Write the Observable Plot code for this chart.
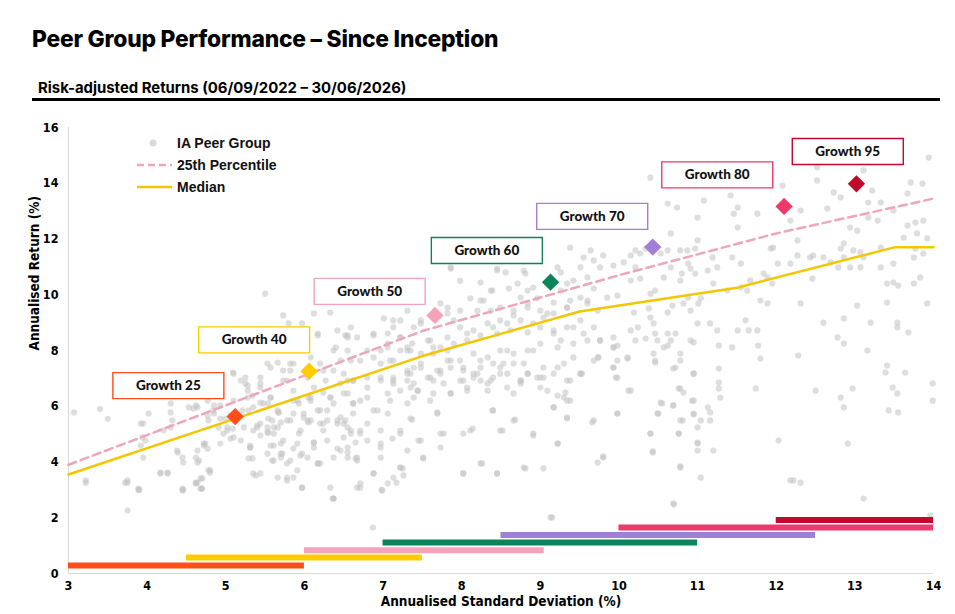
<!DOCTYPE html>
<html><head><meta charset="utf-8">
<script src="https://cdn.jsdelivr.net/npm/d3@7"></script>
<script src="https://cdn.jsdelivr.net/npm/@observablehq/plot@0.6"></script>
<style>
body{margin:0;background:#fff;width:955px;height:614px;position:relative;overflow:hidden;font-family:Inter,sans-serif}
#title{position:absolute;left:32px;top:25px;font-weight:800;font-size:22.8px;color:#000;white-space:nowrap;letter-spacing:-0.2px}
#subtitle{position:absolute;left:38px;top:79px;font-weight:700;font-size:14.9px;color:#000;white-space:nowrap}
#rule{position:absolute;left:32px;top:98px;width:908px;height:3px;background:#000}
#chart{position:absolute;left:0;top:105px}
#legend{position:absolute;left:135px;top:132px;font:bold 14px "Liberation Sans",Arial,sans-serif;color:#111}
.li{position:relative;height:22px;display:flex;align-items:center}
.li svg{width:40px;height:22px;flex:none}
.li span{margin-left:2px}
</style></head>
<body>
<div id="title">Peer Group Performance – Since Inception</div>
<div id="subtitle">Risk-adjusted Returns (06/09/2022 – 30/06/2026)</div>
<div id="rule"></div>
<div id="chart"></div>
<div id="legend">
 <div class="li"><svg><circle cx="18" cy="11" r="3.5" fill="#dadada"/></svg><span>IA Peer Group</span></div>
 <div class="li"><svg><line x1="2" x2="37" y1="11" y2="11" stroke="#eea6b9" stroke-width="2.5" stroke-dasharray="7,4"/></svg><span>25th Percentile</span></div>
 <div class="li"><svg><line x1="2" x2="37" y1="11" y2="11" stroke="#f4c600" stroke-width="2.5"/></svg><span>Median</span></div>
</div>
<script>
const xTicks = [3,4,5,6,7,8,9,10,11,12,13,14];
const yTicks = [0,2,4,6,8,10,12,14,16];

const fundNames = ["Growth 25","Growth 40","Growth 50","Growth 60","Growth 70","Growth 80","Growth 95"];
const fundColors = ["#ff4e1a","#ffcc00","#f4a3b8","#0b8459","#a07fd6","#ee3a6a","#c10a2b"];
const fundSD = [5.12,6.06,7.66,9.13,10.43,12.1,13.02];
const fundRet = [5.63,7.26,9.26,10.45,11.71,13.17,13.98];
const labelX = [4.27,5.36,6.83,8.32,9.66,11.25,12.91];
const labelY = [6.74,8.38,10.12,11.59,12.81,14.3,15.14];
const rangeLo = [3,4.5,6,7,8.5,10,12];
const rangeHi = [6,7.5,9.05,11,12.5,14,14];
const rangeY = [0.29,0.57,0.83,1.11,1.38,1.65,1.92];

const p25X = [3,7.5,10,12,14];
const p25Y = [3.9,8.7,10.7,12.2,13.45];
const medX = [3,7.5,9.5,11.5,13.5,14];
const medY = [3.55,7.8,9.4,10.25,11.7,11.7];

const peer = [
[3.07,5.78],[3.4,5.9],[3.5,5.55],[3.22,3.34],[3.75,2.26],[3.89,3.0],[3.75,3.26],[3.95,5.38],[4.02,5.74],[3.94,4.88],[3.92,4.59],[4.17,3.59],[4.26,3.59],[4.21,5.13],[4.3,6.1],[4.3,5.78],[4.32,5.49],[4.38,4.41],[4.45,4.16],[4.46,3.98],[4.45,2.98],[4.53,5.96],[4.59,5.92],[4.64,5.96],[4.62,4.16],[4.64,3.98],[4.64,3.26],[4.7,3.41],[4.7,3.05],[4.74,4.66],[4.77,4.48],[4.8,3.62],[4.78,5.49],[4.85,5.74],[4.91,5.24],[4.97,5.02],[5.0,5.56],[5.06,5.67],[5.09,7.21],[5.09,5.2],[5.1,4.88],[5.19,6.92],[5.25,7.03],[5.28,6.56],[5.29,5.85],[5.31,4.52],[5.34,4.13],[5.35,5.96],[5.4,5.24],[5.44,6.82],[5.44,3.59],[5.48,6.1],[5.53,7.53],[5.53,5.06],[5.54,5.56],[5.57,6.31],[5.57,4.59],[5.61,4.05],[5.61,5.02],[5.66,5.24],[5.67,5.78],[5.7,4.66],[5.72,4.3],[5.73,6.92],[5.73,9.26],[5.78,5.49],[5.8,8.97],[5.82,7.28],[5.82,7.53],[5.86,6.56],[5.86,3.44],[5.91,6.2],[5.93,5.02],[5.95,4.23],[5.97,8.97],[5.99,5.74],[6.04,7.03],[6.05,5.42],[6.08,6.2],[6.12,9.33],[6.12,4.7],[6.17,8.61],[6.17,3.95],[6.2,5.85],[6.2,7.53],[6.24,5.13],[6.27,6.92],[6.29,5.49],[6.33,9.36],[6.33,6.31],[6.33,3.08],[6.37,7.28],[6.37,2.69],[6.4,8.11],[6.42,8.72],[6.46,4.41],[6.5,5.38],[6.52,8.54],[6.55,6.92],[6.59,7.64],[6.59,8.83],[6.62,6.1],[6.65,4.7],[6.67,4.05],[6.67,3.08],
[6.88,8.54],[6.8,8.0],[7.06,8.25],[7.22,8.47],[7.31,8.0],[6.97,7.53],[7.13,7.64],[7.39,7.39],[6.8,7.03],[6.97,6.92],[7.13,6.82],[7.31,6.92],[6.8,6.31],[7.06,6.46],[7.22,6.56],[7.39,6.31],[6.88,5.85],[7.06,5.74],[7.35,5.56],[6.8,5.38],[6.97,5.13],[7.22,5.13],[6.8,4.77],[6.97,4.52],[7.12,4.84],[7.31,4.41],[6.97,4.16],[7.22,3.8],[6.88,3.59],[7.26,3.52],[6.71,3.23],[7.06,3.23],
[5.1,7.17],[5.28,6.74],[5.44,7.03],[5.57,7.39],[5.73,7.28],[5.86,7.53],[5.78,6.92],[5.57,6.31],[5.44,6.13],[5.28,6.31],[5.1,6.2],[4.93,6.03],[4.84,5.85],[4.77,5.67],[5.66,5.85],[5.86,6.2],[6.08,6.31],[6.24,6.49],[6.46,6.82],[6.62,6.92],[6.37,6.1],[6.17,5.85],[5.99,5.6],[5.82,5.49],[5.95,5.13],[6.08,5.49],[6.24,5.38],[6.42,5.49],[6.55,5.24],[6.5,4.88],[6.71,5.13],[6.29,4.77],[6.12,4.52],[5.91,4.66],[5.73,4.77],[5.61,5.24],[5.44,5.38],[5.35,5.13],[5.23,5.24],[5.19,4.77],[5.02,5.13],[4.93,4.66],[5.31,4.52],[5.53,4.3],[5.7,4.16],[5.78,3.95],[6.04,4.16],[6.2,3.95],[6.37,4.16],[6.55,4.16],[5.91,3.7],[5.66,3.44],[5.35,3.59],[4.8,3.7],[4.72,4.59],[7.13,3.44],[6.17,8.54],[6.37,8.0],[6.55,8.47],[6.46,7.64],[6.24,7.28],[6.08,7.75],[5.66,7.57],[5.5,10.04],
[3.92,5.38],[3.98,4.77],[3.95,4.16],[4.3,5.24],[4.39,4.34],[4.62,6.03],[4.64,4.41],[4.66,4.05],[4.72,4.66],[4.77,6.2],[4.85,6.03],[4.78,3.7],[4.68,3.41],[4.62,3.26],[4.68,3.05],[4.45,3.05],[4.17,3.62],[4.26,3.62],[3.89,3.05],[3.75,3.34],[5.02,5.24],[5.06,4.84],[4.93,5.56],[5.21,5.85],[5.34,6.38],[5.25,6.82],[5.44,6.67],[5.54,6.1],[5.4,5.31],[5.53,5.24],[5.67,5.78],[5.7,5.42],[5.59,5.49],[5.44,4.95],[5.54,5.06],[5.31,4.59],[5.29,4.13],[5.61,4.59],[5.59,4.05],[5.7,4.3],[5.82,4.05],[5.78,3.44],[5.38,3.52],[5.86,4.48],[5.97,4.3],[6.12,4.7],[6.17,3.95],[5.97,3.08],[6.37,2.69],[5.86,5.74],[5.93,6.1],[6.04,5.49],[6.05,6.31],[6.2,5.38],[6.29,5.85],[6.42,5.38],[6.52,5.49],[6.59,5.02],[6.42,4.48],[6.55,4.34],[6.65,4.13],[6.62,6.1],[6.62,5.74],[6.12,6.67],[6.33,6.31],[6.5,6.46],
[7.86,10.94],[7.98,10.5],[8.45,10.94],[8.56,10.8],[8.79,10.87],[8.91,10.26],[8.24,10.44],[8.39,10.15],[8.11,9.87],[8.28,9.79],[8.2,9.43],[8.6,10.22],[8.75,9.9],[9.22,10.98],[9.26,10.8],[9.38,11.69],[9.51,10.98],[9.64,11.59],[9.8,11.41],[9.76,10.98],[9.93,11.05],[10.06,11.16],[10.21,11.59],[9.68,10.22],[9.85,9.9],[9.6,9.79],[9.73,9.43],[9.98,9.97],[9.38,9.79],[9.34,9.54],[9.17,9.72],[9.0,9.43],[9.09,9.33],[8.84,9.69],[8.66,9.26],[8.49,9.08],[8.33,8.97],[8.15,8.72],[7.98,8.83],[7.82,9.33],[7.73,9.69],[7.48,8.97],[7.39,8.83],[7.22,9.08],[7.13,8.83],[7.01,9.15],[6.88,8.61],[6.67,8.47],[6.55,8.54],[6.55,8.0],[6.71,7.64],[6.88,7.75],[7.06,8.11],[7.22,8.0],[7.37,8.25],[7.57,8.36],[7.73,8.11],[7.9,8.25],[8.07,8.36],[8.24,8.54],[8.45,8.61],[8.62,8.72],[8.84,8.65],[9.0,8.83],[9.17,8.61],[9.26,8.36],[9.42,8.83],[9.55,8.61],[9.76,8.36],[9.93,8.47],[10.15,8.72],[9.93,8.11],[10.11,7.75],[9.98,7.64],[9.98,7.03],[9.73,7.75],[9.51,7.17],[9.38,6.92],[9.22,7.39],[9.04,7.03],[8.84,7.17],[8.66,7.53],[8.49,7.39],[8.4,7.03],[8.24,7.64],[8.15,7.17],[8.02,7.39],[7.86,7.64],[7.73,7.28],[7.64,6.92],[7.48,7.39],[7.35,6.67],[7.31,7.17],[7.13,6.92],[6.97,7.03],[6.8,6.67],[6.62,6.92],[6.5,7.17],[6.55,6.46],[6.71,6.2],[6.93,5.85],[7.09,6.2],[7.44,6.56],[7.6,6.2],[7.69,5.74],[7.86,6.46],[8.07,6.67],[8.24,6.92],[8.33,6.56],[8.58,6.67],[8.75,6.92],[9.0,6.67],[9.17,5.96],[9.3,6.31],[9.38,6.2],[9.34,5.6],[9.68,5.49],[9.98,5.74],[10.15,6.56],[9.93,7.39],[8.4,5.85],[8.66,5.49],[8.91,5.02],[9.22,4.66],[8.49,5.13],[8.11,5.13],[7.73,5.02],[7.48,4.77],[7.22,5.02],[6.97,4.66],[6.71,5.02],[6.55,4.52],[6.67,4.16],[6.88,3.59],[7.22,3.8],[7.51,4.16],[8.02,3.59],[8.24,3.95],[8.45,3.59],[8.79,3.8],[9.04,3.77],[9.73,3.98],[9.8,4.16],[6.71,3.08],[6.99,2.98],[9.13,2.01],[6.46,5.6],[6.59,5.13],
[7.86,10.98],[8.37,10.15],[8.45,10.87],[8.71,10.4],[8.81,10.76],[8.84,10.15],[8.96,9.87],[9.26,10.15],[9.34,10.4],[9.42,10.51],[9.6,10.62],[9.55,11.34],[9.68,11.23],[9.51,9.9],[9.6,9.69],[9.34,9.54],[9.17,9.33],[9.04,9.18],[8.84,9.54],[8.66,9.43],[8.49,9.54],[8.37,9.43],[8.24,9.79],[7.98,9.43],[7.82,9.54],[7.9,9.08],[7.48,9.08],[7.31,9.43],[7.13,9.08],[7.06,8.61],[7.22,8.47],[7.35,8.0],[6.97,8.0],[7.09,7.64],[7.6,8.36],[7.82,8.47],[8.07,8.61],[8.4,8.83],[8.58,8.97],[8.75,9.08],[8.91,8.97],[9.17,8.72],[9.34,8.83],[9.51,9.08],[9.68,8.83],[9.6,8.36],[9.42,8.25],[9.22,8.11],[9.0,8.25],[8.84,8.0],[8.66,7.89],[8.49,8.0],[8.33,7.75],[8.15,7.89],[7.98,7.64],[7.82,7.64],[7.64,7.89],[7.48,7.53],[7.31,7.28],[7.13,7.03],[7.39,6.82],[7.6,7.03],[7.77,6.82],[7.98,6.92],[8.2,7.17],[8.37,6.92],[8.58,7.17],[8.75,6.92],[8.96,7.03],[9.17,7.17],[9.34,6.92],[9.51,7.17],[9.68,7.64],[9.3,7.53],[9.04,7.39],[8.79,7.53],[8.53,7.53],[8.24,7.39],[8.02,7.28],[7.69,7.28],
[7.31,8.11],[7.48,7.89],[7.64,8.11],[7.82,8.0],[7.35,7.17],[7.57,7.03],[7.73,7.17],[7.86,7.39],[7.44,6.56],[7.64,6.46],[7.86,6.46],[8.02,6.92],[8.07,6.56],[8.15,7.03],[8.33,6.82],[8.4,7.53],[8.49,7.17],[8.58,8.0],[8.66,6.46],[8.75,6.82],[8.84,7.17],[8.91,8.0],[9.0,7.03],[9.09,6.56],[9.22,6.38],[9.32,6.49],[9.34,6.2],[9.42,7.75],[9.53,7.17],[9.34,5.56],[9.17,5.96],[7.31,6.1],[7.37,5.52],[7.69,5.78],[8.39,5.85],[8.68,5.52],[8.14,5.2],[7.77,5.02],[8.02,5.02],[8.52,5.13],[8.91,4.95],[9.22,4.66],[7.45,4.77],[7.73,4.52],[7.51,4.13],[8.26,3.95],[8.02,3.59],[8.45,3.59],[8.81,3.77],[7.25,3.77],[9.66,5.42],[9.8,4.2],[9.74,7.75],[9.93,7.39],[9.96,7.03],[10.11,7.71],[9.98,5.74],[10.12,6.56],[9.93,8.11],[10.44,7.89],[10.46,7.57],[10.62,8.18],[10.78,7.89],[10.72,7.39],[10.76,6.64],[10.82,6.49],[10.95,7.17],[10.95,6.2],[10.53,6.13],[10.69,6.03],[10.49,5.74],[10.81,5.49],[10.95,5.7],[10.4,5.02],[10.76,5.02],[11.0,4.7],[10.43,4.38],[10.78,3.84],[10.49,8.36],[10.95,8.29],[9.76,8.36],[9.98,8.18],
[10.4,14.2],[10.62,13.27],[10.74,13.13],[11.0,12.77],[11.08,13.38],[11.42,13.56],[11.51,13.13],[11.46,12.91],[11.76,12.91],[11.51,12.41],[12.08,13.92],[12.18,12.66],[12.31,13.02],[12.52,14.57],[12.52,14.1],[12.73,13.67],[12.82,13.49],[12.65,13.09],[13.11,14.46],[13.22,13.74],[13.17,13.31],[13.33,13.31],[12.94,12.41],[13.03,12.3],[13.17,12.77],[13.29,12.66],[13.49,13.02],[13.67,13.63],[13.71,14.03],[13.86,13.99],[13.94,14.92],[13.67,12.48],[13.77,12.59],[13.87,12.66],[13.62,12.05],[13.79,12.2],[13.92,12.02],[13.77,11.66],[13.87,11.48],[13.75,11.34],[13.83,10.62],[13.75,10.4],[13.92,9.69],[13.55,10.33],[13.41,10.4],[13.49,11.12],[13.33,11.69],[13.07,11.52],[12.86,11.84],[12.82,11.66],[12.94,10.98],[12.79,10.98],[12.6,11.34],[12.47,11.41],[12.46,10.58],[12.27,11.41],[12.18,11.12],[11.93,11.66],[11.84,10.76],[11.67,10.51],[11.55,11.12],[11.44,11.34],[11.55,10.26],[11.63,10.15],[11.8,9.79],[11.89,9.69],[12.31,9.69],[12.6,9.0],[12.86,9.15],[13.03,9.61],[13.2,9.0],[13.41,9.72],[13.54,9.0],[13.68,8.65],[13.54,8.83],[12.78,8.47],[12.86,8.25],[13.16,8.0],[12.28,7.82],[13.41,7.46],[13.64,7.21],[13.39,7.21],[13.99,6.82],[13.48,6.67],[13.54,6.46],[13.99,6.2],[13.43,5.85],[13.55,5.78],[12.97,6.64],[12.82,6.31],[12.86,5.96],[12.5,6.56],[12.91,4.66],[13.11,2.69],[12.03,4.77],[12.18,3.34],[12.31,3.26],[11.74,6.64],[11.8,7.71],[11.77,8.18],[11.76,8.72],[11.65,8.72],[11.61,9.08],[11.51,8.72],[11.44,8.11],[11.27,8.18],[11.27,7.35],[11.27,6.85],[11.29,6.31],[11.27,6.64],[11.13,5.96],[11.16,5.78],[11.16,5.49],[11.04,5.49],[10.95,5.74],[10.93,6.2],[11.0,5.24],[11.0,4.66],[11.0,4.41],[11.2,4.41],[10.78,5.49],[10.76,5.02],[10.78,3.8],[11.04,3.44],[10.69,2.51],[10.4,5.02],[10.43,4.34],[10.55,6.1],[10.5,5.74],[10.69,6.03],[10.78,6.64],[10.95,7.17],[10.69,7.35],[10.78,7.64],[10.46,7.64],[10.57,8.11],[10.66,8.36],[10.91,8.36],[11.0,8.97],[11.16,8.97],[11.25,8.72],[10.21,8.36],[10.34,8.43],[10.46,8.61],[10.62,8.61],[10.72,8.61],[10.24,8.83],[10.44,8.97],[10.19,9.36],[10.38,9.51],[10.4,9.18],[10.62,9.36],[10.68,9.61],[10.82,9.69],[10.91,9.43],[11.01,9.69],[10.88,9.9],[11.04,9.87],[11.2,10.4],[11.38,10.15],[10.78,10.51],[10.8,10.76],[10.97,10.76],[10.91,10.94],[11.13,10.87],[11.25,10.98],[10.57,10.62],[10.46,10.15],[10.4,10.04],[10.27,10.58],[10.15,10.51],[10.21,10.98],[10.15,11.41],[10.66,12.2],[11.0,11.95],[10.87,11.59],[10.62,11.59],[10.78,11.59],[10.97,11.66],[11.19,11.34],[10.88,11.12],[10.66,10.98],[11.89,10.62],[12.02,11.12],[11.95,10.4],[11.96,11.69],[12.27,11.95],[12.43,11.34],[12.69,11.16],[12.86,11.34],[12.98,11.59],[13.11,11.34],[13.07,10.98],[13.33,10.98],[13.49,10.44],[10.53,11.48],[10.34,11.66],[10.27,11.48],
[3.22,3.26],[3.72,3.26],[3.9,3.0],[4.46,3.0],[4.69,3.05],[4.62,3.23],[5.78,3.34],[5.97,3.08],[6.36,2.69],[6.98,3.0],[7.17,3.26],[6.87,1.65],[9.15,2.01],[10.7,2.48],[12.22,3.34],[13.96,2.08]
];

const funds = fundNames.map((name,i)=>({name, color:fundColors[i], sd:fundSD[i], ret:fundRet[i], lx:labelX[i], ly:labelY[i], lo:rangeLo[i], hi:rangeHi[i], by:rangeY[i]}));
const p25 = p25X.map((x,i)=>({x, y:p25Y[i]}));
const med = medX.map((x,i)=>({x, y:medY[i]}));

const boxSymbol = {draw(ctx){ ctx.moveTo(-55.5,-13); ctx.lineTo(55.5,-13); ctx.lineTo(55.5,13); ctx.lineTo(-55.5,13); ctx.closePath(); }};
const axisFont = "'Liberation Sans Narrow','Arial Narrow','DejaVu Sans Condensed',sans-serif";

const plot = Plot.plot({
  width:955, height:509,
  marginLeft:68, marginRight:22, marginTop:22, marginBottom:41,
  style:{fontFamily:axisFont, fontSize:"12.5px", fontWeight:"bold", color:"#000", background:"#fff", overflow:"visible"},
  x:{domain:[3,14], ticks:xTicks, tickSize:0, tickPadding:8, label:null},
  y:{domain:[0,16], ticks:yTicks, tickSize:0, tickPadding:10, label:null},
  color:{type:"identity"},
  marks:[
    Plot.ruleY([0],{stroke:"#d9d9d9"}),
    Plot.ruleX([3],{stroke:"#d9d9d9"}),
    Plot.dot(peer,{x:d=>d[0], y:d=>d[1], r:3.1, fill:"#c2c2c2", fillOpacity:0.55}),
    Plot.ruleY(funds,{x1:"lo", x2:"hi", y:"by", stroke:d=>d.color, strokeWidth:6}),
    Plot.line(p25,{x:"x", y:"y", stroke:"#eea6b9", strokeWidth:2.5, strokeDasharray:"8,5"}),
    Plot.line(med,{x:"x", y:"y", stroke:"#f4c600", strokeWidth:2.5}),
    Plot.dot(funds,{x:"sd", y:"ret", symbol:"diamond2", r:7.8, fill:d=>d.color}),
    Plot.dot(funds,{x:"lx", y:"ly", symbol:boxSymbol, r:1, fill:"white", stroke:d=>d.color, strokeWidth:1.4}),
    Plot.text(funds,{x:"lx", y:"ly", text:"name", fontFamily:"Lato, 'Open Sans', sans-serif", fontWeight:900, fontSize:13.5, fill:"#111"}),
    Plot.text(["Annualised Standard Deviation (%)"],{text:d=>d, frameAnchor:"bottom", dy:32, fontSize:13.5}),
    Plot.text(["Annualised Return (%)"],{text:d=>d, frameAnchor:"left", dx:-34, rotate:-90, fontSize:13.5})
  ]
});
document.getElementById("chart").appendChild(plot);
</script>
</body></html>
